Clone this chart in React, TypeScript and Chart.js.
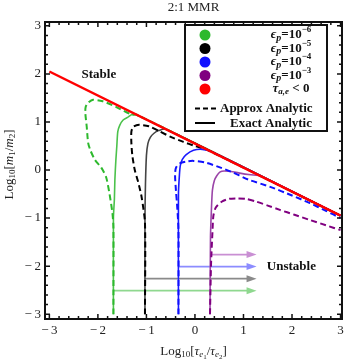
import React, { useEffect, useRef } from "react";
import { Chart, registerables } from "chart.js";

Chart.register(...registerables);

// ---------- data ----------
const xRange = [-3.09, 3.03];
const yRange = [-3.1, 3.08];
const xTickValues = [-3, -2, -1, 0, 1, 2, 3];
const xTickLabels = ["\u2212\u20093", "\u2212\u20092", "\u2212\u20091", "0", "1", "2", "3"];
const yTickValues = [-3, -2, -1, 0, 1, 2, 3];
const yTickLabels = ["\u2212\u20093", "\u2212\u20092", "\u2212\u20091", "0", "1", "2", "3"];

const redLine = [[-3, 2.05], [3, -0.95]];

const greenApprox = [
  [-1.68, -3.0], [-1.68, -1.2], [-1.7, -0.9], [-1.76, -0.5], [-1.83, -0.15], [-1.93, 0.05],
  [-2.06, 0.21], [-2.15, 0.4], [-2.2, 0.56], [-2.23, 0.9], [-2.26, 1.2], [-2.25, 1.32],
  [-2.2, 1.4], [-2.1, 1.46], [-1.9, 1.43], [-1.6, 1.3], [-1.3, 1.15], [-1.2, 1.15], [3, -0.95],
];
const greenExact = [
  [-1.68, -3.0], [-1.68, -1.0], [-1.66, -0.6], [-1.65, -0.2], [-1.63, 0.2], [-1.61, 0.5],
  [-1.59, 0.8], [-1.55, 0.93], [-1.48, 1.04], [-1.38, 1.1], [-1.25, 1.17], [3, -0.95],
];
const blackApprox = [
  [-1.03, -3.0], [-1.03, -1.1], [-1.1, -0.56], [-1.17, -0.25], [-1.24, 0.0], [-1.29, 0.3],
  [-1.31, 0.56], [-1.31, 0.8], [-1.27, 0.9], [-1.15, 0.94], [-0.95, 0.91], [-0.72, 0.8],
  [-0.5, 0.69], [-0.25, 0.59], [0.0, 0.5], [0.25, 0.42], [3, -0.95],
];
const blackExact = [
  [-1.03, -3.0], [-1.03, -1.0], [-1.02, -0.3], [-1.0, 0.3], [-0.97, 0.55], [-0.92, 0.68],
  [-0.85, 0.76], [-0.75, 0.82], [-0.6, 0.85], [3, -0.95],
];
const blueApprox = [
  [-0.34, -3.0], [-0.34, -1.25], [-0.37, -0.7], [-0.39, -0.45], [-0.41, -0.1], [-0.39, 0.05],
  [-0.31, 0.14], [-0.15, 0.18], [-0.03, 0.19], [0.2, 0.16], [0.5, 0.06], [0.78, -0.05],
  [1.1, -0.2], [1.55, -0.35], [2.0, -0.53], [2.37, -0.69], [2.7, -0.85], [3.0, -1.0],
];
const blueExact = [
  [-0.34, -3.0], [-0.34, -0.5], [-0.32, -0.1], [-0.3, 0.1], [-0.26, 0.22], [-0.18, 0.32],
  [-0.03, 0.41], [0.15, 0.43], [0.35, 0.38], [3, -0.95],
];
const purpleApprox = [
  [0.31, -3.0], [0.33, -2.0], [0.34, -1.74], [0.36, -1.3], [0.38, -0.95], [0.43, -0.78],
  [0.55, -0.66], [0.7, -0.6], [0.86, -0.59], [1.05, -0.6], [1.27, -0.66], [1.5, -0.74],
  [1.75, -0.83], [2.05, -0.93], [2.37, -1.04], [2.7, -1.15], [3.0, -1.25],
];
const purpleExact = [
  [0.31, -3.0], [0.32, -1.4], [0.34, -0.8], [0.36, -0.42], [0.4, -0.22], [0.45, -0.12],
  [0.52, -0.04], [0.6, -0.02], [0.78, -0.035], [0.95, -0.07], [1.15, -0.1], [1.35, -0.125],
  [3, -0.95],
];

const arrowStarts = [-1.68, -1.03, -0.34, 0.31];
const arrowLevels = [-2.51, -2.26, -2.01, -1.76];
const arrowTip = 1.27;
const arrowColors = ["#8fd88f", "#8a8a8a", "#8c8cff", "#c98fd3"];

const legendDotColors = ["#2db92d", "#000000", "#1010ff", "#800080", "#ff0000"];
const legendExponents = ["\u22126", "\u22125", "\u22124", "\u22123"];

const SERIF = '"Liberation Serif", "DejaVu Serif", serif';

type Run = { t: string; size: number; bold?: boolean; italic?: boolean; dy?: number };

function font(r: Run) {
  return `${r.italic ? "italic " : ""}${r.bold ? "bold " : ""}${r.size}px ${SERIF}`;
}

function drawRuns(ctx: CanvasRenderingContext2D, runs: Run[], x: number, y: number, align: string) {
  let total = 0;
  const widths = runs.map((r) => {
    ctx.font = font(r);
    const w = ctx.measureText(r.t).width;
    total += w;
    return w;
  });
  let cx = align === "center" ? x - total / 2 : align === "right" ? x - total : x;
  ctx.textAlign = "left";
  ctx.textBaseline = "middle";
  runs.forEach((r, i) => {
    ctx.font = font(r);
    ctx.fillText(r.t, cx, y + (r.dy || 0));
    cx += widths[i];
  });
}

const toPts = (a: number[][]) => a.map(([x, y]) => ({ x, y }));

const decorPlugin = {
  id: "decor",
  afterDatasetsDraw(chart: any) {
    const { ctx, chartArea: a } = chart;
    const xs = chart.scales.x;
    const ys = chart.scales.y;
    ctx.save();

    // arrowheads
    arrowLevels.forEach((lv, i) => {
      const tx = xs.getPixelForValue(arrowTip);
      const ty = ys.getPixelForValue(lv);
      ctx.fillStyle = arrowColors[i];
      ctx.beginPath();
      ctx.moveTo(tx, ty);
      ctx.lineTo(tx - 10, ty - 3.5);
      ctx.lineTo(tx - 10, ty + 3.5);
      ctx.closePath();
      ctx.fill();
    });

    // frame
    ctx.strokeStyle = "#111";
    ctx.lineWidth = 2;
    ctx.strokeRect(a.left, a.top, a.right - a.left, a.bottom - a.top);

    // ticks
    ctx.lineWidth = 1.5;
    ctx.beginPath();
    for (let i = -15; i <= 15; i++) {
      const v = i / 5;
      const len = i % 5 === 0 ? 5 : 3;
      if (v >= xRange[0] && v <= xRange[1]) {
        const px = xs.getPixelForValue(v);
        ctx.moveTo(px, a.bottom);
        ctx.lineTo(px, a.bottom - len);
        ctx.moveTo(px, a.top);
        ctx.lineTo(px, a.top + len);
      }
      if (v >= yRange[0] && v <= yRange[1]) {
        const py = ys.getPixelForValue(v);
        ctx.moveTo(a.left, py);
        ctx.lineTo(a.left + len, py);
        ctx.moveTo(a.right, py);
        ctx.lineTo(a.right - len, py);
      }
    }
    ctx.stroke();

    // tick labels
    ctx.fillStyle = "#222";
    ctx.font = `13px ${SERIF}`;
    ctx.textBaseline = "middle";
    ctx.textAlign = "center";
    xTickValues.forEach((v, i) => {
      ctx.fillText(xTickLabels[i], xs.getPixelForValue(v), a.bottom + 12);
    });
    ctx.textAlign = "right";
    yTickValues.forEach((v, i) => {
      ctx.fillText(yTickLabels[i], a.left - 4, ys.getPixelForValue(v));
    });

    // title
    ctx.textAlign = "center";
    ctx.font = `13px ${SERIF}`;
    ctx.fillText("2:1 MMR", (a.left + a.right) / 2, 8);

    // x axis title
    drawRuns(
      ctx,
      [
        { t: "Log", size: 13 },
        { t: "10", size: 9, dy: 3 },
        { t: "[", size: 13 },
        { t: "\u03c4", size: 13, italic: true },
        { t: "e", size: 9, italic: true, dy: 3 },
        { t: "1", size: 7, dy: 5 },
        { t: "/", size: 13 },
        { t: "\u03c4", size: 13, italic: true },
        { t: "e", size: 9, italic: true, dy: 3 },
        { t: "2", size: 7, dy: 5 },
        { t: "]", size: 13 },
      ],
      (a.left + a.right) / 2,
      352,
      "center"
    );

    // y axis title
    ctx.save();
    ctx.translate(10, (a.top + a.bottom) / 2 - 6);
    ctx.rotate(-Math.PI / 2);
    drawRuns(
      ctx,
      [
        { t: "Log", size: 13 },
        { t: "10", size: 9, dy: 3 },
        { t: "[", size: 13 },
        { t: "m", size: 13, italic: true },
        { t: "1", size: 9, dy: 3 },
        { t: "/", size: 13 },
        { t: "m", size: 13, italic: true },
        { t: "2", size: 9, dy: 3 },
        { t: "]", size: 13 },
      ],
      0,
      0,
      "center"
    );
    ctx.restore();

    // Stable / Unstable
    ctx.fillStyle = "#111";
    ctx.font = `bold 13px ${SERIF}`;
    ctx.textAlign = "center";
    ctx.textBaseline = "middle";
    ctx.fillText("Stable", xs.getPixelForValue(-1.98), ys.getPixelForValue(1.98));
    ctx.textAlign = "left";
    ctx.fillText("Unstable", xs.getPixelForValue(1.48), ys.getPixelForValue(-2.02));

    // legend
    const L = 185, T = 25, R = 327, B = 131;
    ctx.fillStyle = "#fff";
    ctx.fillRect(L, T, R - L, B - T);
    ctx.strokeStyle = "#111";
    ctx.lineWidth = 2;
    ctx.strokeRect(L, T, R - L, B - T);
    const rowY = [35, 48.5, 62, 75.5, 89];
    legendDotColors.forEach((c, i) => {
      ctx.fillStyle = c;
      ctx.beginPath();
      ctx.arc(205, rowY[i], 5.5, 0, Math.PI * 2);
      ctx.fill();
    });
    ctx.fillStyle = "#111";
    legendExponents.forEach((e, i) => {
      drawRuns(
        ctx,
        [
          { t: "\u03f5", size: 13, bold: true, italic: true },
          { t: "p", size: 10, bold: true, italic: true, dy: 3 },
          { t: "=10", size: 13, bold: true },
          { t: e, size: 9, bold: true, dy: -5 },
        ],
        291,
        rowY[i],
        "center"
      );
    });
    drawRuns(
      ctx,
      [
        { t: "\u03c4", size: 13, bold: true, italic: true },
        { t: "a,e", size: 9, bold: true, italic: true, dy: 3 },
        { t: " < 0", size: 13, bold: true },
      ],
      291,
      rowY[4],
      "center"
    );
    // line samples
    ctx.strokeStyle = "#000";
    ctx.lineWidth = 2;
    ctx.setLineDash([5, 3]);
    ctx.beginPath();
    ctx.moveTo(195, 108.5);
    ctx.lineTo(217, 108.5);
    ctx.stroke();
    ctx.setLineDash([]);
    ctx.beginPath();
    ctx.moveTo(195, 123);
    ctx.lineTo(215, 123);
    ctx.stroke();
    ctx.fillStyle = "#111";
    ctx.font = `bold 13px ${SERIF}`;
    ctx.textAlign = "left";
    ctx.textBaseline = "middle";
    ctx.fillText("Approx Analytic", 220, 108.5);
    ctx.fillText("Exact Analytic", 230, 123.5);

    ctx.restore();
  },
};

function lineDs(label: string, pts: number[][], color: string, width: number, dashed: boolean) {
  return {
    label,
    data: toPts(pts),
    borderColor: color,
    backgroundColor: color,
    borderWidth: width,
    borderDash: dashed ? [6, 3.5] : [],
    pointRadius: 0,
    fill: false,
    tension: 0.25,
    showLine: true,
  };
}

export default function App() {
  const ref = useRef<HTMLCanvasElement | null>(null);
  useEffect(() => {
    if (!ref.current) return;
    const datasets: any[] = [
      lineDs("τ<0", redLine, "#ff0000", 2.5, false),
      lineDs("purple approx", purpleApprox, "#800080", 2, true),
      lineDs("blue approx", blueApprox, "#1010ff", 2, true),
      lineDs("purple exact", purpleExact, "#9b45a8", 1.6, false),
      lineDs("blue exact", blueExact, "#1a1aff", 1.6, false),
      lineDs("black approx", blackApprox, "#000000", 2, true),
      lineDs("black exact", blackExact, "#454545", 1.6, false),
      lineDs("green approx", greenApprox, "#2db92d", 2, true),
      lineDs("green exact", greenExact, "#4cc24c", 1.6, false),
    ];
    arrowLevels.forEach((lv, i) => {
      datasets.push({
        label: "arrow" + i,
        data: [
          { x: arrowStarts[i], y: lv },
          { x: arrowTip - 0.17, y: lv },
        ],
        borderColor: arrowColors[i],
        borderWidth: 1.8,
        pointRadius: 0,
        showLine: true,
        tension: 0,
      });
    });
    const chart = new Chart(ref.current, {
      type: "scatter",
      data: { datasets },
      options: {
        responsive: false,
        animation: false,
        devicePixelRatio: 1,
        layout: { padding: { left: 45, right: 4, top: 22, bottom: 44 } },
        plugins: { legend: { display: false }, tooltip: { enabled: false }, title: { display: false } },
        scales: {
          x: { type: "linear", min: xRange[0], max: xRange[1], display: false },
          y: { type: "linear", min: yRange[0], max: yRange[1], display: false },
        },
      },
      plugins: [decorPlugin],
    } as any);
    return () => chart.destroy();
  }, []);
  return (
    <div style={{ position: "fixed", left: 0, top: 0, width: 346, height: 363, background: "#fff" }}>
      <canvas ref={ref} width={346} height={363} style={{ width: 346, height: 363 }} />
    </div>
  );
}
